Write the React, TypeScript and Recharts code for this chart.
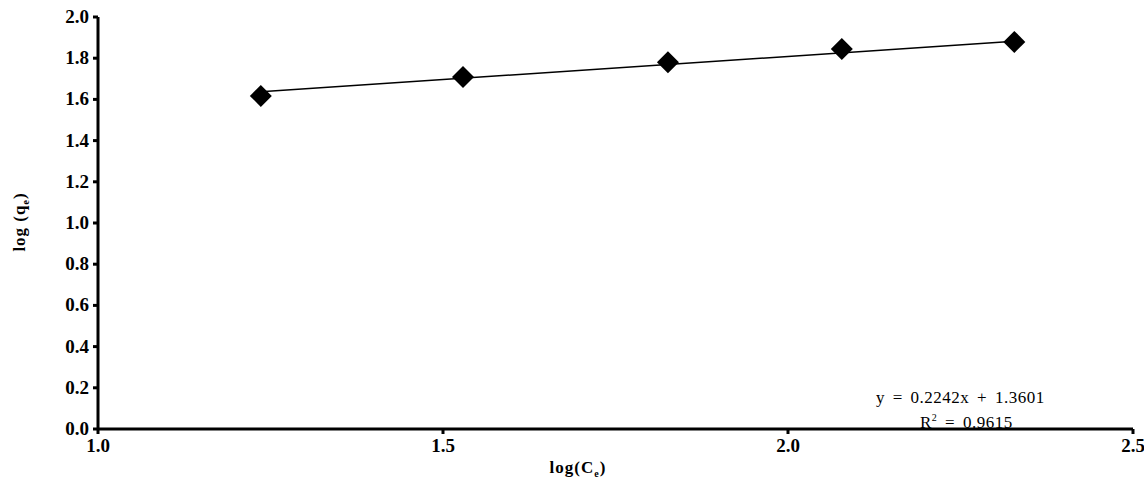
import { ComposedChart, Scatter, Line, XAxis, YAxis } from "recharts";

document.body.style.margin = "0";

const logCe = [1.236, 1.529, 1.826, 2.078, 2.328];
const logQe = [1.617, 1.709, 1.78, 1.845, 1.879];
const xTicks = [1.0, 1.5, 2.0, 2.5];
const yTicks = [0, 0.2, 0.4, 0.6, 0.8, 1.0, 1.2, 1.4, 1.6, 1.8, 2.0];
const slope = 0.2242;
const intercept = 1.3601;

const points = logCe.map((x, i) => ({ x, y: logQe[i] }));
const trend = [logCe[0], logCe[logCe.length - 1]].map((x) => ({ x, t: slope * x + intercept }));

const font = "'Liberation Serif', 'Times New Roman', serif";
const tickText = { fontFamily: font, fontWeight: 700, fontSize: 19 };

function XTick(props: any) {
  const { x, y, payload } = props;
  return (
    <text x={x} y={y + 16} textAnchor="middle" style={tickText} fill="#000">
      {payload.value.toFixed(1)}
    </text>
  );
}

function YTick(props: any) {
  const { x, y, payload } = props;
  return (
    <text x={x - 2} y={y + 6} textAnchor="end" style={tickText} fill="#000">
      {payload.value.toFixed(1)}
    </text>
  );
}

function Diamond(props: any) {
  const { cx, cy } = props;
  const r = 11;
  return <path d={`M${cx},${cy - r}L${cx + r},${cy}L${cx},${cy + r}L${cx - r},${cy}Z`} fill="#000" />;
}

const sub = { fontSize: 10, lineHeight: 0 };

export default function App() {
  return (
    <div style={{ position: "relative", width: 1144, height: 483, fontFamily: font }}>
      <ComposedChart width={1144} height={483} margin={{ top: 17, right: 11, left: 0, bottom: 14 }}>
        <XAxis
          type="number"
          dataKey="x"
          domain={[1, 2.5]}
          ticks={xTicks}
          tick={<XTick />}
          stroke="#000"
          strokeWidth={3}
          tickSize={5}
          height={40}
        />
        <YAxis
          type="number"
          domain={[0, 2]}
          ticks={yTicks}
          tick={<YTick />}
          stroke="#000"
          strokeWidth={3}
          tickSize={5}
          width={98}
        />
        <Line data={trend} dataKey="t" stroke="#000" strokeWidth={1.5} dot={false} isAnimationActive={false} />
        <Scatter data={points} dataKey="y" fill="#000" shape={<Diamond />} legendType="none" isAnimationActive={false} />
      </ComposedChart>
      <div style={{ position: "absolute", left: 0, top: 459, width: 1144, textAlign: "center", paddingLeft: 12, boxSizing: "border-box", fontWeight: 700, fontSize: 17, lineHeight: "17px", letterSpacing: 1 }}>
        log(C<sub style={sub}>e</sub>)
      </div>
      <div style={{ position: "absolute", left: 20, top: 222, transform: "translate(-50%,-50%) rotate(-90deg)", fontWeight: 700, fontSize: 17, whiteSpace: "nowrap", letterSpacing: 1 }}>
        log (q<sub style={sub}>e</sub>)
      </div>
      <div style={{ position: "absolute", left: 876, top: 388, fontSize: 17, lineHeight: "20px", whiteSpace: "nowrap", wordSpacing: 3, letterSpacing: 0.5 }}>
        y = 0.2242x + 1.3601
      </div>
      <div style={{ position: "absolute", left: 920, top: 413, fontSize: 17, lineHeight: "20px", whiteSpace: "nowrap", wordSpacing: 3, letterSpacing: 0.5 }}>
        R<sup style={sub}>2</sup> = 0.9615
      </div>
    </div>
  );
}
